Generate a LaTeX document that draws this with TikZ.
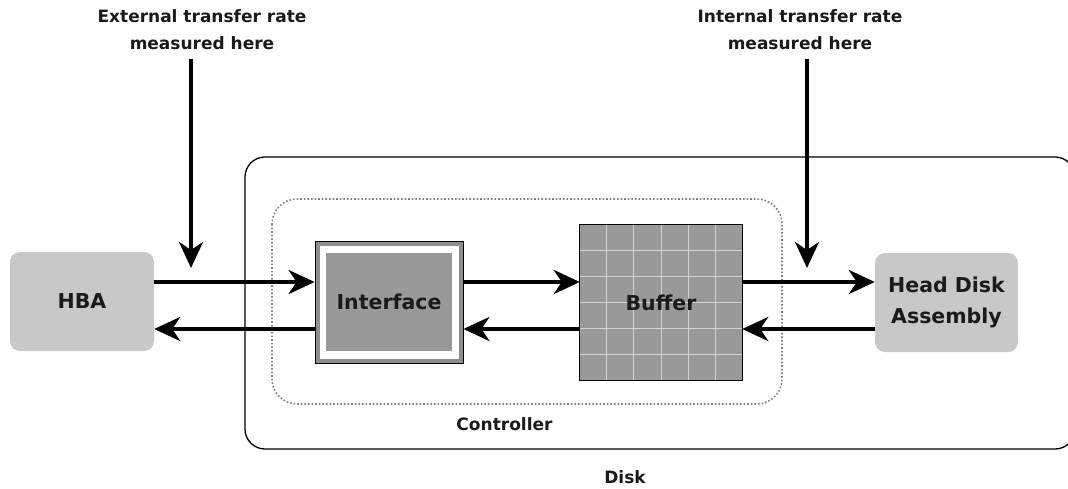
\documentclass[tikz,border=0pt]{standalone}
\usepackage{fontspec}
\setmainfont{DejaVu Sans}
\usetikzlibrary{arrows.meta,calc}
\definecolor{lightbox}{HTML}{C8C8C8}
\definecolor{midbox}{HTML}{999999}
\definecolor{bandbox}{HTML}{8E8E8E}
\definecolor{gridline}{HTML}{D2D2D2}
\definecolor{txt}{HTML}{1A1A1A}
\tikzset{
  biglbl/.style={font=\fontsize{20.5}{31}\selectfont\bfseries, text=txt},
  smalllbl/.style={font=\fontsize{17}{27}\selectfont\bfseries, text=txt, align=center},
  endbox/.style={fill=lightbox, rounded corners=10pt, minimum width=#1, minimum height=99pt,
    inner sep=0pt, align=center, biglbl},
  flow/.style={line width=4pt, -{Stealth[length=26pt,width=24pt,inset=8pt]}},
  outline/.style={draw=black, line width=1.3pt, rounded corners=20pt},
  ctrlline/.style={draw=gray, line width=1.6pt, dash pattern=on 1.6pt off 2pt, rounded corners=25pt},
}
\begin{document}
\begin{tikzpicture}[x=1pt, y=-1pt]
\useasboundingbox (0,0) rectangle (1068,488);

% enclosures
\draw[outline] (245,157) rectangle (1075,449);
\draw[ctrlline] (272,199) rectangle (782,404);
\node[smalllbl] (ctrllbl) at (504.5,424) {Controller};
\node[smalllbl, inner sep=1pt] (disklbl) at (625,477.5) {Disk};

% end points
\node[endbox=144pt] (hba) at (82,301.5) {HBA};
\node[endbox=143pt] (hda) at (946.5,302.5) {Head Disk\\Assembly};

% interface: framed box
\node[draw=black, line width=0.8pt, fill=bandbox, minimum width=148pt, minimum height=122pt, inner sep=0pt] (iface) at (389,302) {};
\node[fill=white, minimum width=139pt, minimum height=113pt, inner sep=0pt] (ifacegap) at (iface) {};
\node[fill=midbox, minimum width=126pt, minimum height=98pt, inner sep=0pt, biglbl] (ifacecore) at (iface) {Interface};

% buffer: gridded block
\node[fill=midbox, minimum width=162pt, minimum height=155pt, inner sep=0pt] (buf) at (661,302.5) {};
\foreach \i in {1,...,5} {
  \draw[gridline, line width=1pt] ($(buf.north west)!\i/6!(buf.north east)$) -- ($(buf.south west)!\i/6!(buf.south east)$);
  \draw[gridline, line width=1pt] ($(buf.north west)!\i/6!(buf.south west)$) -- ($(buf.north east)!\i/6!(buf.south east)$);
}
\draw[black, line width=1.2pt] (buf.north west) rectangle (buf.south east);
\node[biglbl] (buflbl) at (buf) {Buffer};

% data paths
\coordinate (rowA) at (0,282);
\coordinate (rowB) at (0,329);
\draw[flow] (hba.east |- rowA) -- (iface.west |- rowA);
\draw[flow] (iface.west |- rowB) -- (hba.east |- rowB);
\draw[flow] (iface.east |- rowA) -- (buf.west |- rowA);
\draw[flow] (buf.west |- rowB) -- (iface.east |- rowB);
\draw[flow] (buf.east |- rowA) -- (hda.west |- rowA);
\draw[flow] (hda.west |- rowB) -- (buf.east |- rowB);

% measurement points
\node[smalllbl] (extlbl) at (202,30) {External transfer rate\\measured here};
\node[smalllbl] (intlbl) at (800,30) {Internal transfer rate\\measured here};
\coordinate (extfrom) at (191,59);
\coordinate (extto) at (191,268);
\coordinate (intfrom) at (807,59);
\coordinate (intto) at (807,268);
\draw[flow] (extfrom) -- (extto);
\draw[flow] (intfrom) -- (intto);
\end{tikzpicture}
\end{document}
